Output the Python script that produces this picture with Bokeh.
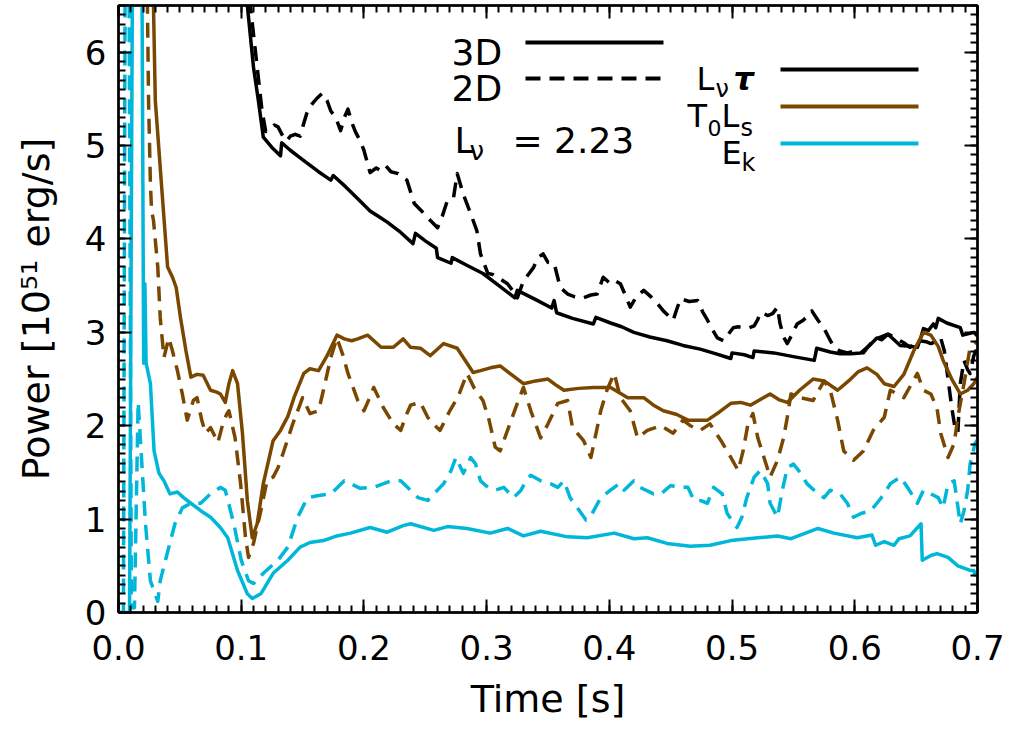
from bokeh.plotting import figure
from bokeh.models import Range1d, SingleIntervalTicker, LinearAxis, PrintfTickFormatter, Label
from bokeh.embed import file_html
from bokeh.resources import INLINE

# ---------------- data ----------------
t_lnu_3d = [0.100, 0.105, 0.110, 0.114, 0.118, 0.125, 0.132, 0.133, 0.140, 0.147, 0.154, 0.163, 0.173, 0.175,
            0.185, 0.195, 0.205, 0.212, 0.219, 0.230, 0.240, 0.242, 0.250, 0.259, 0.260, 0.271, 0.272, 0.285,
            0.297, 0.310, 0.323, 0.325, 0.340, 0.353, 0.355, 0.357, 0.370, 0.387, 0.389, 0.401, 0.410, 0.420,
            0.433, 0.447, 0.460, 0.474, 0.487, 0.499, 0.500, 0.510, 0.517, 0.518, 0.534, 0.550, 0.567, 0.569,
            0.580, 0.588, 0.597, 0.605, 0.612, 0.618, 0.622, 0.627, 0.632, 0.637, 0.645, 0.651, 0.654, 0.656,
            0.660, 0.664, 0.666, 0.668, 0.675, 0.686, 0.688, 0.697, 0.700]
lnu_tau_3d = [7.40, 6.50, 5.84, 5.48, 5.09, 4.98, 4.89, 5.03, 4.95, 4.88, 4.81, 4.72, 4.63, 4.68,
              4.56, 4.43, 4.30, 4.24, 4.18, 4.07, 3.95, 4.06, 3.98, 3.90, 3.80, 3.74, 3.80, 3.71,
              3.63, 3.50, 3.37, 3.45, 3.35, 3.26, 3.34, 3.21, 3.15, 3.09, 3.16, 3.10, 3.06, 3.00,
              2.95, 2.91, 2.86, 2.82, 2.77, 2.72, 2.78, 2.76, 2.73, 2.80, 2.78, 2.74, 2.70, 2.83,
              2.79, 2.77, 2.77, 2.78, 2.86, 2.94, 2.92, 2.98, 2.92, 2.86, 2.85, 2.84, 2.95, 3.04,
              3.02, 3.09, 3.05, 3.15, 3.10, 3.05, 2.97, 3.00, 2.96]

t_lnu_2d = [0.100, 0.107, 0.113, 0.117, 0.120, 0.124, 0.127, 0.130, 0.134, 0.137, 0.140, 0.144, 0.148, 0.151,
            0.154, 0.158, 0.162, 0.166, 0.170, 0.173, 0.177, 0.181, 0.184, 0.187, 0.190, 0.193, 0.197, 0.200,
            0.205, 0.210, 0.214, 0.218, 0.222, 0.228, 0.235, 0.241, 0.247, 0.254, 0.260, 0.264, 0.268, 0.273,
            0.276, 0.281, 0.287, 0.292, 0.295, 0.301, 0.305, 0.309, 0.317, 0.321, 0.325, 0.330, 0.334, 0.338,
            0.342, 0.346, 0.350, 0.355, 0.360, 0.366, 0.372, 0.379, 0.385, 0.390, 0.395, 0.401, 0.405, 0.409,
            0.413, 0.417, 0.422, 0.428, 0.434, 0.439, 0.444, 0.448, 0.452, 0.455, 0.458, 0.465, 0.472, 0.476,
            0.480, 0.484, 0.488, 0.493, 0.497, 0.501, 0.505, 0.509, 0.514, 0.518, 0.521, 0.523, 0.526, 0.529,
            0.533, 0.537, 0.539, 0.542, 0.545, 0.549, 0.553, 0.558, 0.562, 0.565, 0.570, 0.575, 0.579, 0.583,
            0.588, 0.594, 0.600, 0.607, 0.611, 0.615, 0.621, 0.627, 0.632, 0.637, 0.641, 0.645, 0.649, 0.653,
            0.658, 0.662, 0.666, 0.670, 0.673, 0.676, 0.679, 0.682, 0.684, 0.686, 0.689, 0.692, 0.694, 0.697,
            0.700]
lnu_tau_2d = [7.60, 6.55, 5.84, 5.37, 5.15, 5.18, 5.22, 5.20, 5.10, 5.05, 5.10, 5.12, 5.10, 5.24,
              5.37, 5.45, 5.51, 5.56, 5.48, 5.37, 5.30, 5.16, 5.30, 5.39, 5.25, 5.15, 5.05, 4.95,
              4.71, 4.76, 4.73, 4.78, 4.72, 4.70, 4.63, 4.38, 4.30, 4.20, 4.12, 4.25, 4.41, 4.44,
              4.70, 4.48, 4.27, 4.09, 3.84, 3.63, 3.62, 3.59, 3.52, 3.45, 3.37, 3.55, 3.62, 3.69,
              3.80, 3.84, 3.75, 3.74, 3.48, 3.41, 3.38, 3.37, 3.40, 3.41, 3.59, 3.52, 3.55, 3.52,
              3.40, 3.27, 3.38, 3.45, 3.38, 3.31, 3.23, 3.18, 3.13, 3.25, 3.36, 3.33, 3.34, 3.22,
              3.13, 3.03, 2.94, 2.91, 2.98, 3.05, 3.06, 3.05, 3.05, 3.07, 3.14, 3.21, 3.20, 3.18,
              3.20, 3.27, 3.10, 2.95, 2.88, 2.98, 3.09, 3.13, 3.18, 3.23, 3.13, 3.04, 2.94, 2.84,
              2.80, 2.78, 2.80, 2.78, 2.85, 2.91, 2.95, 2.98, 2.95, 2.91, 2.88, 2.84, 2.88, 2.91,
              2.90, 2.88, 2.90, 2.94, 2.80, 2.50, 2.20, 1.95, 1.93, 2.45, 2.70, 2.60, 2.56, 2.75,
              2.84]

t_tls_3d = [0.026, 0.0285, 0.030, 0.036, 0.040, 0.044, 0.047, 0.0505, 0.055, 0.059, 0.064, 0.069, 0.075, 0.080,
            0.083, 0.087, 0.090, 0.093, 0.097, 0.101, 0.105, 0.109, 0.113, 0.118, 0.126, 0.132, 0.138, 0.143,
            0.151, 0.156, 0.163, 0.170, 0.178, 0.184, 0.190, 0.195, 0.203, 0.209, 0.214, 0.224, 0.232, 0.238,
            0.246, 0.254, 0.265, 0.276, 0.289, 0.295, 0.303, 0.311, 0.320, 0.330, 0.340, 0.350, 0.356, 0.363,
            0.375, 0.387, 0.401, 0.415, 0.428, 0.436, 0.444, 0.455, 0.464, 0.474, 0.480, 0.490, 0.499, 0.507,
            0.515, 0.523, 0.531, 0.538, 0.545, 0.555, 0.566, 0.575, 0.586, 0.595, 0.603, 0.610, 0.618, 0.624,
            0.632, 0.640, 0.648, 0.656, 0.662, 0.668, 0.672, 0.679, 0.686, 0.692, 0.697, 0.700]
t0ls_3d = [7.50, 6.50, 5.48, 4.41, 3.70, 3.59, 3.48, 3.16, 2.80, 2.52, 2.55, 2.54, 2.38, 2.36,
           2.34, 2.25, 2.45, 2.59, 2.45, 1.92, 1.20, 0.80, 0.95, 1.38, 1.84, 1.95, 2.10, 2.30,
           2.56, 2.61, 2.59, 2.75, 2.97, 2.93, 2.91, 2.93, 2.97, 2.90, 2.84, 2.84, 2.93, 2.84,
           2.83, 2.75, 2.88, 2.83, 2.57, 2.59, 2.62, 2.64, 2.55, 2.45, 2.48, 2.50, 2.44, 2.38,
           2.40, 2.41, 2.41, 2.30, 2.30, 2.22, 2.16, 2.12, 2.06, 2.06, 2.06, 2.15, 2.24, 2.25,
           2.22, 2.28, 2.34, 2.28, 2.25, 2.38, 2.50, 2.48, 2.38, 2.48, 2.58, 2.62, 2.55, 2.45,
           2.42, 2.55, 2.80, 3.00, 2.97, 2.85, 2.70, 2.50, 2.34, 2.38, 2.45, 2.52]

t_tls_2d = [0.022, 0.0236, 0.0245, 0.026, 0.027, 0.0285, 0.032, 0.034, 0.037, 0.041, 0.044, 0.048, 0.052, 0.056,
            0.061, 0.064, 0.068, 0.071, 0.075, 0.078, 0.081, 0.085, 0.088, 0.090, 0.095, 0.0995, 0.1035, 0.106,
            0.110, 0.116, 0.121, 0.126, 0.130, 0.134, 0.142, 0.150, 0.156, 0.163, 0.167, 0.173, 0.178, 0.183,
            0.187, 0.195, 0.200, 0.204, 0.208, 0.212, 0.216, 0.224, 0.230, 0.234, 0.238, 0.246, 0.252, 0.258,
            0.262, 0.270, 0.277, 0.284, 0.290, 0.297, 0.302, 0.307, 0.311, 0.317, 0.325, 0.330, 0.336, 0.344,
            0.350, 0.358, 0.366, 0.370, 0.379, 0.385, 0.393, 0.398, 0.404, 0.409, 0.417, 0.423, 0.431, 0.442,
            0.452, 0.460, 0.466, 0.474, 0.482, 0.491, 0.499, 0.505, 0.509, 0.513, 0.517, 0.521, 0.526, 0.531,
            0.537, 0.542, 0.545, 0.548, 0.556, 0.566, 0.575, 0.580, 0.586, 0.591, 0.599, 0.607, 0.615, 0.624,
            0.629, 0.640, 0.651, 0.656, 0.662, 0.667, 0.670, 0.676, 0.681, 0.684, 0.689, 0.694, 0.700]
t0ls_2d = [7.60, 6.48, 5.48, 4.59, 4.30, 4.20, 3.70, 3.16, 2.73, 2.94, 2.80, 2.59, 2.34, 2.06,
           2.27, 2.30, 2.05, 1.92, 1.98, 1.90, 1.82, 2.02, 2.12, 2.16, 1.87, 1.38, 0.80, 0.59,
           0.74, 1.09, 1.41, 1.45, 1.55, 1.70, 2.02, 2.30, 2.13, 2.16, 2.38, 2.73, 2.94, 2.75,
           2.56, 2.27, 2.16, 2.28, 2.41, 2.30, 2.19, 2.02, 1.95, 2.10, 2.22, 2.25, 2.09, 2.00,
           1.95, 2.16, 2.32, 2.56, 2.40, 2.27, 2.06, 1.77, 1.73, 1.95, 2.24, 2.41, 2.16, 1.87,
           2.02, 2.24, 2.27, 1.98, 1.84, 1.66, 2.16, 2.38, 2.56, 2.30, 2.16, 1.87, 1.95, 2.00,
           1.92, 2.06, 2.00, 1.95, 2.02, 1.84, 1.66, 1.52, 1.73, 2.02, 2.13, 1.87, 1.66, 1.45,
           1.63, 1.87, 2.09, 2.34, 2.30, 2.27, 2.48, 2.38, 2.06, 1.73, 1.63, 1.73, 1.95, 2.09,
           2.38, 2.30, 2.56, 2.38, 2.34, 2.19, 1.92, 1.66, 1.81, 2.09, 2.45, 2.84, 2.91]

t_ek_3d = [0.000, 0.009, 0.0115, 0.0190, 0.0205, 0.0215, 0.0225, 0.026, 0.029, 0.033, 0.037, 0.042, 0.048, 0.053,
           0.059, 0.067, 0.075, 0.083, 0.089, 0.097, 0.105, 0.109, 0.116, 0.126, 0.138, 0.148, 0.156, 0.167,
           0.178, 0.189, 0.205, 0.219, 0.232, 0.238, 0.257, 0.268, 0.284, 0.303, 0.317, 0.330, 0.344, 0.366,
           0.382, 0.404, 0.420, 0.431, 0.447, 0.466, 0.482, 0.499, 0.521, 0.537, 0.548, 0.570, 0.583, 0.602,
           0.614, 0.617, 0.624, 0.632, 0.636, 0.645, 0.654, 0.655, 0.662, 0.667, 0.676, 0.684, 0.694, 0.697,
           0.698, 0.700]
ek_3d = [0.00, 0.00, 7.20, 7.20, 2.67, 3.52, 2.67, 2.45, 1.73, 1.49, 1.41, 1.27, 1.29, 1.23,
         1.17, 1.09, 1.02, 0.91, 0.80, 0.45, 0.20, 0.15, 0.20, 0.42, 0.56, 0.70, 0.75, 0.77,
         0.82, 0.85, 0.91, 0.86, 0.93, 0.95, 0.88, 0.92, 0.90, 0.85, 0.90, 0.82, 0.87, 0.81,
         0.80, 0.85, 0.79, 0.80, 0.74, 0.71, 0.72, 0.77, 0.80, 0.82, 0.79, 0.90, 0.85, 0.80,
         0.83, 0.72, 0.76, 0.72, 0.79, 0.82, 0.95, 0.56, 0.61, 0.63, 0.59, 0.50, 0.45, 0.45,
         0.40, 0.42]

t_ek_2d = [0.000, 0.004, 0.0055, 0.0085, 0.0105, 0.013, 0.0160, 0.019, 0.022, 0.026, 0.032, 0.034, 0.041, 0.046,
           0.052, 0.059, 0.067, 0.075, 0.083, 0.087, 0.094, 0.100, 0.106, 0.110, 0.118, 0.130, 0.138, 0.146,
           0.154, 0.162, 0.173, 0.184, 0.189, 0.197, 0.208, 0.222, 0.230, 0.238, 0.244, 0.252, 0.257, 0.265,
           0.271, 0.275, 0.281, 0.287, 0.291, 0.295, 0.301, 0.307, 0.314, 0.322, 0.328, 0.332, 0.336, 0.344,
           0.352, 0.358, 0.363, 0.368, 0.374, 0.381, 0.386, 0.393, 0.401, 0.408, 0.412, 0.420, 0.425, 0.436,
           0.442, 0.450, 0.456, 0.464, 0.469, 0.474, 0.480, 0.485, 0.492, 0.496, 0.504, 0.508, 0.512, 0.518,
           0.523, 0.529, 0.531, 0.537, 0.541, 0.545, 0.550, 0.556, 0.561, 0.570, 0.575, 0.580, 0.588, 0.594,
           0.599, 0.605, 0.613, 0.618, 0.624, 0.629, 0.637, 0.643, 0.651, 0.656, 0.662, 0.668, 0.672, 0.676,
           0.681, 0.686, 0.689, 0.692, 0.694, 0.698, 0.700]
ek_2d = [0.00, 0.00, 7.20, 7.20, 0.05, 0.05, 2.25, 1.60, 0.95, 0.34, 0.12, 0.34, 0.70, 0.95,
         1.12, 1.17, 1.17, 1.27, 1.34, 1.31, 0.95, 0.56, 0.34, 0.31, 0.42, 0.56, 0.70, 1.02,
         1.23, 1.25, 1.27, 1.41, 1.38, 1.33, 1.34, 1.41, 1.41, 1.31, 1.23, 1.20, 1.27, 1.38,
         1.52, 1.66, 1.49, 1.66, 1.59, 1.41, 1.34, 1.31, 1.34, 1.23, 1.31, 1.41, 1.47, 1.41,
         1.38, 1.34, 1.41, 1.23, 1.12, 0.99, 1.06, 1.23, 1.31, 1.38, 1.31, 1.41, 1.34, 1.27,
         1.27, 1.36, 1.34, 1.34, 1.20, 1.20, 1.17, 1.34, 1.27, 1.06, 0.91, 1.02, 1.23, 1.45,
         1.52, 1.38, 1.17, 1.02, 1.31, 1.55, 1.59, 1.49, 1.38, 1.27, 1.23, 1.31, 1.27, 1.17,
         1.02, 1.06, 1.09, 1.17, 1.27, 1.38, 1.45, 1.34, 1.17, 1.31, 1.27, 1.23, 1.12, 1.38,
         1.41, 0.95, 1.09, 1.31, 1.59, 1.81, 1.85]

x_ticks_step = 0.1
y_ticks_step = 1
x_label = "Time [s]"
y_label = "Power [10\u2075\u00b9 erg/s]"
lnu_value = "2.23"

# ---------------- layout / style ----------------
W, H = 1013, 735
FL, FR, FT, FB = 118, 977, 5, 612
XMAX, YMAX = 0.7, 6.5
FONT = "DejaVu Sans"
BLACK = "#000000"
BROWN = "#7a4700"
CYAN = "#00b6d9"
DASH = "15 9"
LW = 3.5


def dx(px):
    return (px - FL) / (FR - FL) * XMAX


def dy(py):
    return (FB - py) / (FB - FT) * YMAX


p = figure(width=W, height=H, output_backend="svg", toolbar_location=None,
           x_range=Range1d(0, XMAX + 1e-5), y_range=Range1d(0, YMAX),
           min_border_left=FL, min_border_right=W - FR, min_border_top=FT, min_border_bottom=H - FB,
           x_axis_label=x_label, y_axis_label=y_label)
p.grid.visible = False
p.outline_line_color = BLACK
p.outline_line_width = 2
p.background_fill_color = "white"
p.border_fill_color = "white"

xt = SingleIntervalTicker(interval=x_ticks_step, num_minor_ticks=10)
yt = SingleIntervalTicker(interval=y_ticks_step, num_minor_ticks=10)


def style(ax, show):
    ax.axis_line_width = 2.5
    ax.axis_line_color = BLACK
    ax.major_tick_in = 13
    ax.major_tick_out = 0
    ax.minor_tick_in = 7
    ax.minor_tick_out = 0
    ax.major_tick_line_width = 2
    ax.minor_tick_line_width = 2
    ax.major_tick_line_color = BLACK
    ax.minor_tick_line_color = BLACK
    if show:
        ax.major_label_text_font = FONT
        ax.major_label_text_font_size = "34px"
        ax.major_label_text_color = BLACK
        ax.axis_label_text_font = FONT
        ax.axis_label_text_font_size = "38px"
        ax.axis_label_text_font_style = "normal"
        ax.axis_label_text_color = BLACK
    else:
        ax.major_label_text_font_size = "1px"
        ax.major_label_text_color = None
        ax.major_label_standoff = 0


xa = p.xaxis[0]
xa.ticker = xt
xa.formatter = PrintfTickFormatter(format="%.1f")
style(xa, True)
xa.major_label_standoff = 22
xa.axis_label_standoff = 14

ya = p.yaxis[0]
ya.ticker = yt
style(ya, True)
ya.major_label_standoff = 12
ya.axis_label_standoff = 24

top = LinearAxis(ticker=SingleIntervalTicker(interval=x_ticks_step, num_minor_ticks=10))
style(top, False)
p.add_layout(top, "above")
right = LinearAxis(ticker=SingleIntervalTicker(interval=y_ticks_step, num_minor_ticks=10))
style(right, False)
p.add_layout(right, "right")

# ---------------- data lines ----------------
kw = dict(line_width=LW, line_join="round")
p.line(t_lnu_3d, lnu_tau_3d, line_color=BLACK, **kw)
p.line(t_lnu_2d, lnu_tau_2d, line_color=BLACK, line_dash=DASH, **kw)
p.line(t_tls_3d, t0ls_3d, line_color=BROWN, **kw)
p.line(t_tls_2d, t0ls_2d, line_color=BROWN, line_dash=DASH, **kw)
p.line(t_ek_3d, ek_3d, line_color=CYAN, **kw)
p.line(t_ek_2d, ek_2d, line_color=CYAN, line_dash=DASH, **kw)


# ---------------- legends ----------------
def txt(px, py, s, size, style="normal"):
    p.add_layout(Label(x=dx(px), y=dy(py), text=s, text_font=FONT, text_font_size=f"{size}px",
                       text_font_style=style, text_color=BLACK, text_align="left",
                       text_baseline="alphabetic"))


def sample(px0, px1, py, color, dash="solid"):
    p.line([dx(px0), dx(px1)], [dy(py), dy(py)], line_color=color, line_width=4, line_dash=dash)


txt(451, 52, "3D", 36)
txt(451, 88, "2D", 36)
sample(525, 663, 42, BLACK)
sample(525, 663, 78, BLACK, DASH)
txt(454, 140, "L", 36)
txt(469, 150, "\u03bd", 26)
txt(512, 140, "=  " + lnu_value, 36)

txt(696, 78, "L", 32)
txt(715, 88, "\u03bd", 24)
txt(733, 78, "\u03c4", 32, "bold italic")
txt(687, 115, "T", 32)
txt(707, 127, "0", 22)
txt(721, 115, "L", 32)
txt(740, 127, "s", 24)
txt(721, 152, "E", 32)
txt(741, 162, "k", 24)
sample(780, 918, 69, BLACK)
sample(780, 918, 106, BROWN)
sample(780, 918, 143, CYAN)

open("out.html", "w").write(file_html(p, INLINE))
